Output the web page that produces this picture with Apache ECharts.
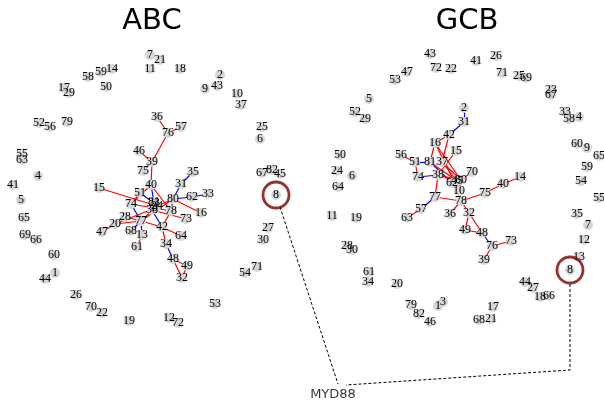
<!DOCTYPE html>
<html>
<head>
<meta charset="utf-8">
<script src="https://cdn.jsdelivr.net/npm/echarts@6/dist/echarts.min.js"></script>
<style>
  html, body { margin: 0; padding: 0; background: #fff; }
  #chart { width: 604px; height: 403px; }
</style>
</head>
<body>
<div id="chart"></div>
<script>
// Panel titles and the highlighted gene
const panelTitles = ['ABC', 'GCB'];
const highlightNode = '8';
const highlightLabel = 'MYD88';

// ABC network: node ids with layout positions
const abcIds = [1,2,3,4,5,6,7,8,9,10,11,12,13,14,15,16,17,18,19,20,21,22,23,24,25,26,27,28,29,30,31,32,33,34,35,36,37,38,39,40,41,42,43,44,45,46,47,48,49,50,51,52,53,54,55,56,57,58,59,60,61,62,63,64,65,66,67,68,69,70,71,72,73,74,75,76,77,78,79,80,81,82];
const abcX = [55,220,155,38,21,260,150,276,205,237,150,169,142,112,99,201,64,180,129,115,160,102,154,157,262,76,268,125,69,263,181,182,208,166,193,157,241,152,152,151,13,162,217,45,280,139,102,173,187,106,140,39,215,245,22,50,181,88,101,54,137,192,22,181,24,36,262,131,25,91,257,178,186,131,143,168,141,171,67,173,154,272];
const abcY = [273,75,208,176,200,139,55,195,89,94,69,318,235,69,188,213,88,69,321,224,60,313,203,206,127,295,228,217,93,240,184,278,194,244,172,117,105,210,162,185,185,227,86,279,174,151,232,259,266,87,193,123,304,273,154,127,127,77,72,255,247,197,160,236,218,240,173,231,235,307,267,323,219,204,171,133,221,211,122,199,202,170];
// ABC edges: [source, target, sign] (+1 positive, -1 negative)
const abcEdges = [
  [36,76,1],[57,76,1],[76,39,1],[46,39,1],[75,39,-1],[39,40,1],[40,81,-1],[40,78,1],
  [40,74,1],[15,24,1],[74,51,1],[74,77,-1],[51,23,-1],[28,77,1],[20,77,1],[20,3,1],
  [47,20,1],[68,77,-1],[13,77,-1],[61,13,1],[77,3,1],[77,42,1],[77,80,1],[42,38,-1],
  [42,64,1],[42,34,1],[42,78,1],[34,48,-1],[48,49,1],[48,32,1],[49,32,1],[80,31,-1],
  [31,35,-1],[80,62,-1],[62,33,-1],[80,16,1],[80,78,1],[80,24,1],[38,73,1],[74,78,1]
];

// GCB network: node ids with layout positions
const gcbIds = [1,2,3,4,5,6,7,8,9,10,11,12,13,14,15,16,17,18,19,20,21,22,23,24,25,26,27,28,29,30,31,32,33,34,35,36,37,38,39,40,41,42,43,44,45,46,47,48,49,50,51,52,53,54,55,56,57,58,59,60,61,62,63,64,65,66,67,68,69,70,71,72,73,74,75,76,77,78,79,80,81,82];
const gcbX = [438,464,443,579,369,352,588,570,587,459,332,584,579,520,456,435,493,540,356,397,491,451,551,337,519,496,533,347,365,352,464,469,565,368,577,450,442,438,484,503,476,449,430,525,457,430,407,482,465,340,415,355,395,581,599,401,421,569,587,577,369,452,407,338,599,549,551,479,526,472,502,436,511,418,485,492,435,461,411,461,430,419];
const gcbY = [306,108,302,117,99,176,225,270,148,191,216,240,257,177,151,143,307,297,218,284,319,69,90,171,76,56,288,246,119,250,122,213,112,282,214,214,162,175,260,184,61,135,54,282,181,322,72,233,230,155,162,112,80,181,198,155,209,119,167,144,272,183,218,187,156,296,95,320,78,172,73,68,241,177,193,246,197,201,305,180,162,314];
// GCB edges: [source, target, sign]
const gcbEdges = [
  [31,2,-1],[31,42,-1],[42,16,1],[42,37,1],[16,81,1],[16,80,1],[16,10,1],[15,38,1],[56,51,1],
  [51,81,-1],[51,74,1],[74,38,-1],[81,62,-1],[37,80,1],[37,45,1],[38,80,1],[38,45,1],
  [81,45,1],[70,80,1],[38,77,1],[77,57,-1],[57,63,1],[77,78,1],[80,10,1],[10,78,1],
  [78,75,1],[75,40,1],[40,14,1],[78,36,1],[78,32,1],[32,49,1],[32,48,1],[49,48,1],
  [48,76,-1],[76,73,1],[76,39,1]
];

const edgeColors = { '1': '#ff0000', '-1': '#0000ff' };

function buildNodes(ids, xs, ys) {
  return ids.map((id, i) => ({ name: String(id), value: [xs[i], ys[i]] }));
}
function buildLinks(edges) {
  return edges.map(e => ({
    source: String(e[0]),
    target: String(e[1]),
    lineStyle: { color: edgeColors[String(e[2])] }
  }));
}
function nodePos(ids, xs, ys, name) {
  const i = ids.findIndex(id => String(id) === name);
  return [xs[i], ys[i]];
}

const abc8 = nodePos(abcIds, abcX, abcY, highlightNode);
const gcb8 = nodePos(gcbIds, gcbX, gcbY, highlightNode);
const ringR = 13;
const labelAnchor = [333, 395];

function graphSeries(ids, xs, ys, edges) {
  return {
    type: 'graph',
    coordinateSystem: 'cartesian2d',
    xAxisIndex: 0, yAxisIndex: 0,
    symbol: 'circle',
    symbolSize: 10,
    itemStyle: { color: '#d6d6d6' },
    label: {
      show: true, position: 'inside',
      color: '#000', fontFamily: 'Liberation Serif', fontSize: 12
    },
    lineStyle: { width: 1.2, opacity: 1, curveness: 0 },
    emphasis: { disabled: true },
    data: buildNodes(ids, xs, ys),
    links: buildLinks(edges),
    z: 2
  };
}

const chart = echarts.init(document.getElementById('chart'), null, { renderer: 'canvas' });
chart.setOption({
  animation: false,
  backgroundColor: '#ffffff',
  title: [
    { text: panelTitles[0], left: 147, top: 2, textAlign: 'center',
      textStyle: { fontFamily: 'DejaVu Sans', fontSize: 29, fontWeight: 'normal', color: '#000' } },
    { text: panelTitles[1], left: 462, top: 2, textAlign: 'center',
      textStyle: { fontFamily: 'DejaVu Sans', fontSize: 29, fontWeight: 'normal', color: '#000' } }
  ],
  grid: { left: 0, top: 0, right: 0, bottom: 0 },
  xAxis: { type: 'value', min: 0, max: 604, show: false },
  yAxis: { type: 'value', min: 0, max: 403, inverse: true, show: false },
  series: [
    graphSeries(abcIds, abcX, abcY, abcEdges),
    graphSeries(gcbIds, gcbX, gcbY, gcbEdges),
    {
      // ring around the highlighted gene in both networks
      type: 'scatter',
      symbol: 'circle',
      symbolSize: ringR * 2,
      itemStyle: { color: 'rgba(0,0,0,0)', borderColor: '#7a0000', borderWidth: 2.8 },
      data: [abc8, gcb8],
      silent: true,
      z: 3
    },
    {
      // dashed callouts to the gene name
      type: 'lines',
      coordinateSystem: 'cartesian2d',
      polyline: true,
      lineStyle: { color: '#000', width: 1, type: [3, 2], opacity: 1 },
      data: [
        { coords: [[abc8[0] + 4, abc8[1] + ringR - 1], [labelAnchor[0] + 5, labelAnchor[1] - 11]] },
        { coords: [[gcb8[0], gcb8[1] + ringR + 1], [gcb8[0], labelAnchor[1] - 25], [labelAnchor[0] + 13, labelAnchor[1] - 10]] }
      ],
      silent: true,
      z: 1
    },
    {
      type: 'scatter',
      symbolSize: 0,
      data: [labelAnchor],
      label: {
        show: true, position: 'inside', formatter: highlightLabel,
        fontFamily: 'DejaVu Sans', fontSize: 13, color: '#000'
      },
      silent: true
    }
  ]
});
</script>
</body>
</html>
